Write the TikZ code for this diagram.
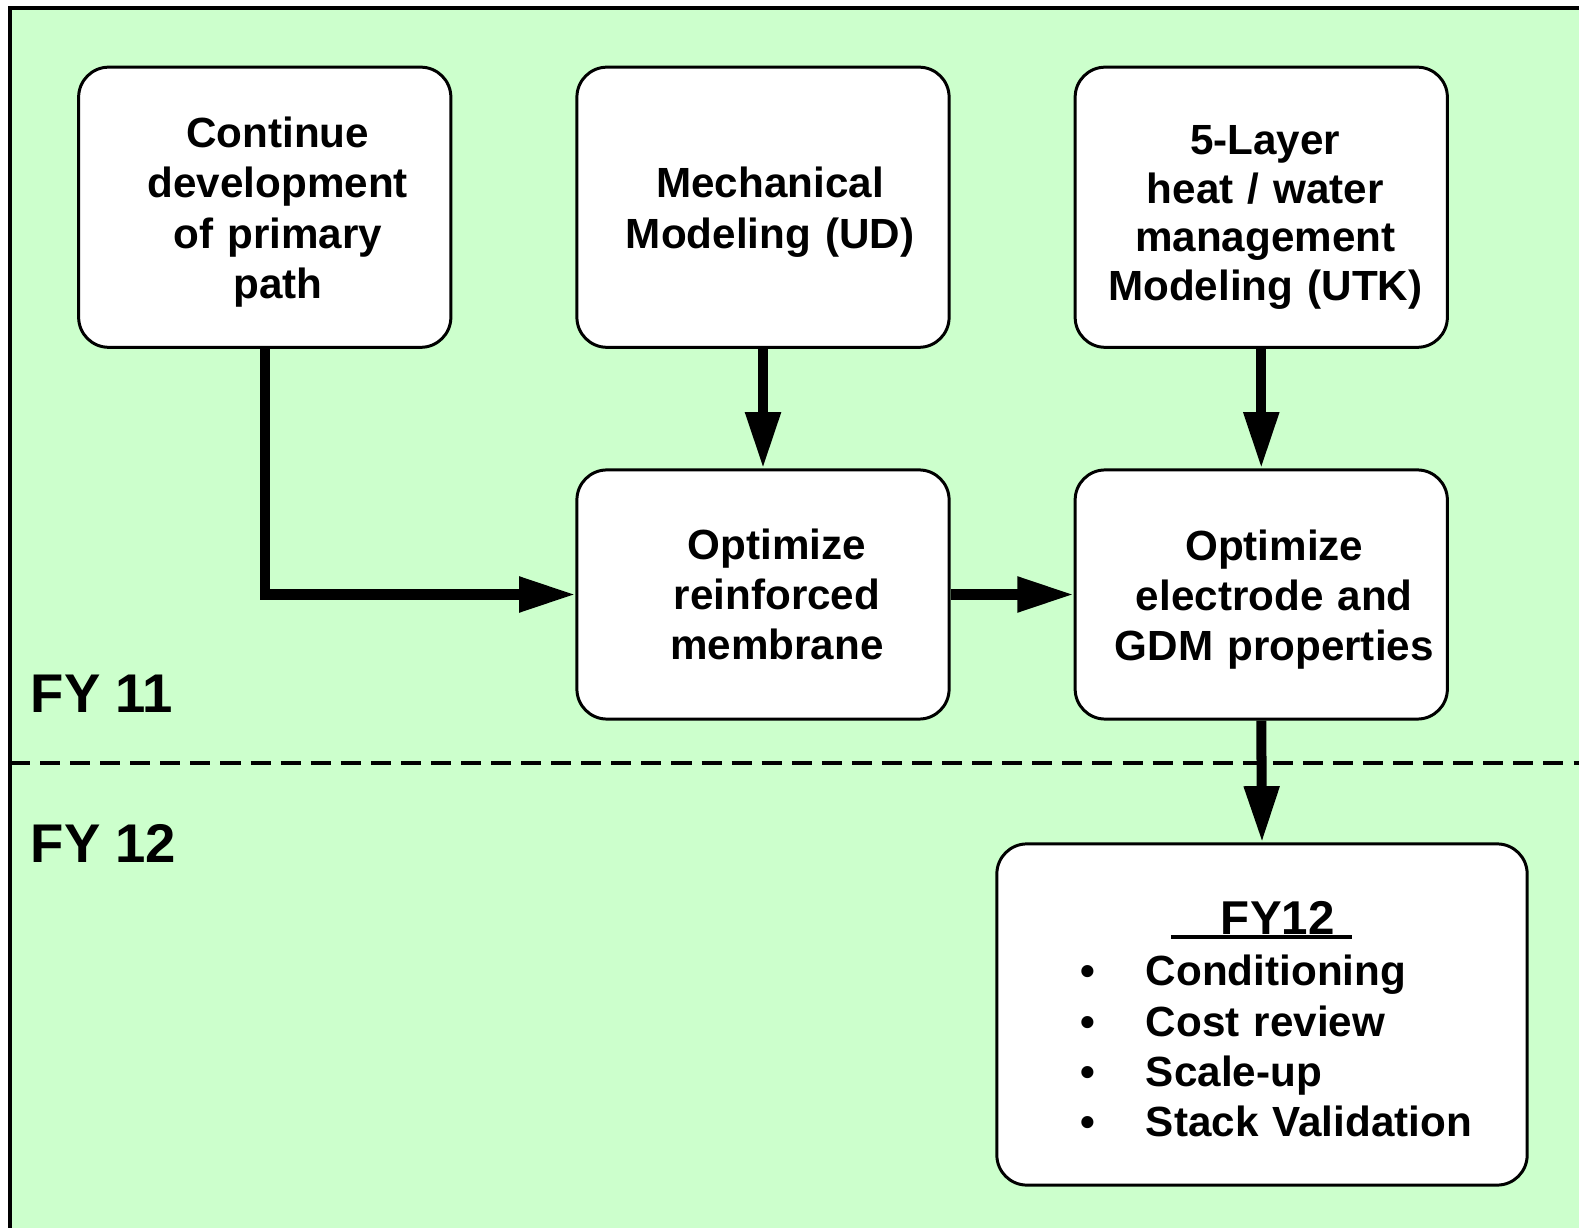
\documentclass[tikz,border=0pt]{standalone}
\usepackage{fontspec}
\setmainfont{Liberation Sans}
\usetikzlibrary{arrows.meta}
\definecolor{bggreen}{RGB}{204,255,204}
\tikzset{
  stepbox/.style={draw, line width=0.85pt, fill=white, rounded corners=0.3cm,
    minimum width=3.72cm, text width=3.72cm, inner sep=0pt, align=center,
    font=\fontsize{12}{14.3}\selectfont\bfseries},
  pad/.style={execute at begin node={\leftskip=#1 plus 1fil\rightskip=0pt plus 1fil\parfillskip=0pt\relax}},
  drop/.style={execute at begin node={\rule{0pt}{#1}}},
  flow/.style={line width=2.85pt, -{Triangle[length=16pt,width=9.5pt]}},
  yearlabel/.style={anchor=base west, inner sep=0pt, font=\fontsize{15.5}{18}\selectfont\bfseries}
}
\begin{document}
\begin{tikzpicture}[x=0.01cm, y=-0.01cm]
        \useasboundingbox (0,0) rectangle (1579,1228);
        \clip (0,0) rectangle (1579,1228);
        \draw[line width=1.4pt, fill=bggreen] (10,8) rectangle (1650,1300);
        \draw[line width=1pt, dash pattern=on 5.7pt off 2.85pt] (10,763) -- (1579,763);

        \node[yearlabel] (fy11) at (30,712) {FY 11};
        \node[yearlabel] (fy12) at (30,862) {FY 12};

        \node[stepbox, pad=0.26cm, drop=11.5pt, minimum height=2.8cm] (primary) at (264.75,207.25) {Continue\\development\\of primary\\path};
        \node[stepbox, pad=0.14cm, drop=11.5pt, minimum height=2.8cm] (mech) at (763,207.25) {Mechanical\\Modeling (UD)};
        \node[stepbox, pad=0.08cm, drop=14pt, minimum height=2.8cm, font=\fontsize{12}{13.8}\selectfont\bfseries] (layer) at (1261.25,207.25) {5-Layer\\heat / water\\management\\Modeling (UTK)};
        \node[stepbox, pad=0.28cm, minimum height=2.49cm] (membrane) at (763,594.5) {Optimize\\reinforced\\membrane};
        \node[stepbox, pad=0.26cm, drop=11.5pt, minimum height=2.49cm] (electrode) at (1261.25,594.5) {Optimize\\electrode and\\GDM properties};
        \node[stepbox, minimum width=5.3cm, minimum height=3.41cm, text width=5.3cm, align=left] (fy12box) at (1262,1014.5)
          {\hspace*{1.74cm}\rlap{\rule[-1.5pt]{1.81cm}{1.2pt}}\hspace{0.5cm}{\fontsize{13.5}{14.3}\selectfont FY12}\rule{0pt}{12pt}\\[0.4pt]
           \makebox[1.49cm][l]{\hspace{0.84cm}\textbullet}Conditioning\\
           \makebox[1.49cm][l]{\hspace{0.84cm}\textbullet}Cost review\\
           \makebox[1.49cm][l]{\hspace{0.84cm}\textbullet}Scale-up\\
           \makebox[1.49cm][l]{\hspace{0.84cm}\textbullet}Stack Validation};

        \draw[flow] (primary.south) |- (membrane.west);
        \draw[flow] (mech.south) -- (membrane.north);
        \draw[flow] (layer.south) -- (electrode.north);
        \draw[flow] (membrane.east) -- (electrode.west);
        \draw[flow] (electrode.south) -- (fy12box.north);
    \end{tikzpicture}
\end{document}
